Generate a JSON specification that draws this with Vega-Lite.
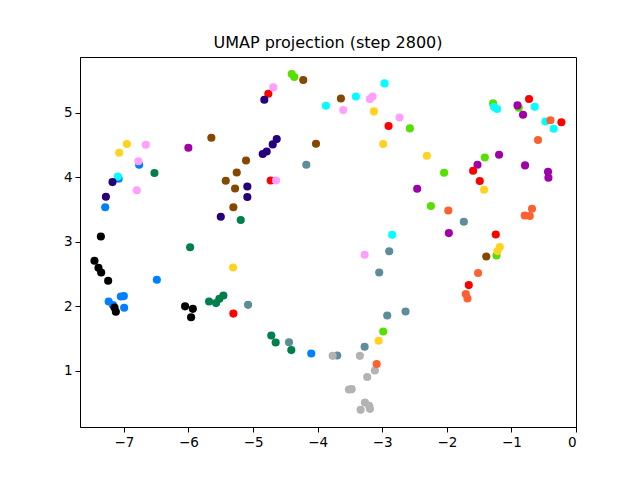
{
  "$schema": "https://vega.github.io/schema/vega-lite/v6.json",
  "width": 496,
  "height": 370,
  "autosize": {"type": "none"},
  "padding": {"left": 80, "top": 57, "right": 64, "bottom": 53},
  "background": "white",
  "title": {"text": "UMAP projection (step 2800)", "font": "DejaVu Sans", "fontSize": 16, "fontWeight": "normal", "color": "black", "offset": 6},
  "config": {
    "view": {"stroke": "black", "strokeWidth": 1},
    "axis": {"labelFont": "DejaVu Sans", "labelFontSize": 13.5, "labelColor": "black", "tickColor": "black", "tickSize": 5, "domainColor": "black", "grid": false, "labelPadding": 3, "title": null}
  },
  "data": {"values": [
    {"c": "blue", "x": -7.082, "y": 3.974}, {"c": "blue", "x": -6.764, "y": 4.191}, {"c": "blue", "x": -7.290, "y": 3.533}, {"c": "blue", "x": -6.490, "y": 2.410}, {"c": "blue", "x": -7.236, "y": 2.074}, {"c": "blue", "x": -7.047, "y": 2.151}, {"c": "blue", "x": -7.001, "y": 2.157}, {"c": "blue", "x": -6.996, "y": 1.976}, {"c": "blue", "x": -4.099, "y": 1.268}, {"c": "blue", "x": -7.170, "y": 2.020},
    {"c": "black", "x": -7.357, "y": 3.081}, {"c": "black", "x": -7.456, "y": 2.704}, {"c": "black", "x": -7.394, "y": 2.595}, {"c": "black", "x": -7.352, "y": 2.523}, {"c": "black", "x": -7.244, "y": 2.394}, {"c": "black", "x": -7.146, "y": 1.981}, {"c": "black", "x": -7.125, "y": 1.914}, {"c": "black", "x": -6.053, "y": 1.999}, {"c": "black", "x": -5.933, "y": 1.960}, {"c": "black", "x": -5.960, "y": 1.829},
    {"c": "lime", "x": -4.402, "y": 5.597}, {"c": "lime", "x": -4.362, "y": 5.551}, {"c": "lime", "x": -2.572, "y": 4.754}, {"c": "lime", "x": -2.042, "y": 4.067}, {"c": "lime", "x": -2.247, "y": 3.552}, {"c": "lime", "x": -2.985, "y": 1.609}, {"c": "lime", "x": -1.412, "y": 4.304}, {"c": "lime", "x": -1.284, "y": 5.141}, {"c": "lime", "x": -0.886, "y": 5.074}, {"c": "lime", "x": -1.231, "y": 2.786},
    {"c": "slate", "x": -5.078, "y": 2.022}, {"c": "slate", "x": -4.176, "y": 4.191}, {"c": "slate", "x": -4.444, "y": 1.442}, {"c": "slate", "x": -3.697, "y": 1.237}, {"c": "slate", "x": -3.273, "y": 1.372}, {"c": "slate", "x": -3.047, "y": 2.523}, {"c": "slate", "x": -2.892, "y": 2.851}, {"c": "slate", "x": -2.923, "y": 1.857}, {"c": "slate", "x": -2.639, "y": 1.919}, {"c": "slate", "x": -1.737, "y": 3.308},
    {"c": "gray", "x": -3.768, "y": 1.232}, {"c": "gray", "x": -3.346, "y": 1.232}, {"c": "gray", "x": -3.114, "y": 1.005}, {"c": "gray", "x": -3.233, "y": 0.904}, {"c": "gray", "x": -3.516, "y": 0.710}, {"c": "gray", "x": -3.474, "y": 0.716}, {"c": "gray", "x": -3.268, "y": 0.509}, {"c": "gray", "x": -3.202, "y": 0.458}, {"c": "gray", "x": -3.335, "y": 0.396}, {"c": "gray", "x": -3.191, "y": 0.411},
    {"c": "purple", "x": -6.002, "y": 4.455}, {"c": "purple", "x": -2.459, "y": 3.820}, {"c": "purple", "x": -1.969, "y": 3.133}, {"c": "purple", "x": -1.525, "y": 4.191}, {"c": "purple", "x": -1.191, "y": 4.346}, {"c": "purple", "x": -0.906, "y": 5.110}, {"c": "purple", "x": -0.820, "y": 4.966}, {"c": "purple", "x": -0.789, "y": 4.181}, {"c": "purple", "x": -0.433, "y": 4.082}, {"c": "purple", "x": -0.427, "y": 3.990},
    {"c": "cyan", "x": -7.094, "y": 4.010}, {"c": "cyan", "x": -3.872, "y": 5.105}, {"c": "cyan", "x": -3.408, "y": 5.249}, {"c": "cyan", "x": -2.964, "y": 5.451}, {"c": "cyan", "x": -2.846, "y": 3.107}, {"c": "cyan", "x": -1.268, "y": 5.085}, {"c": "cyan", "x": -1.222, "y": 5.054}, {"c": "cyan", "x": -0.639, "y": 5.090}, {"c": "cyan", "x": -0.473, "y": 4.862}, {"c": "cyan", "x": -0.345, "y": 4.749},
    {"c": "orange", "x": -3.086, "y": 1.105}, {"c": "orange", "x": -1.977, "y": 3.483}, {"c": "orange", "x": -1.516, "y": 2.514}, {"c": "orange", "x": -1.706, "y": 2.188}, {"c": "orange", "x": -1.680, "y": 2.120}, {"c": "orange", "x": -0.681, "y": 3.510}, {"c": "orange", "x": -0.794, "y": 3.406}, {"c": "orange", "x": -0.716, "y": 3.397}, {"c": "orange", "x": -0.588, "y": 4.574}, {"c": "orange", "x": -0.396, "y": 4.881},
    {"c": "brown", "x": -5.646, "y": 4.610}, {"c": "brown", "x": -5.109, "y": 4.258}, {"c": "brown", "x": -5.253, "y": 4.072}, {"c": "brown", "x": -5.423, "y": 3.943}, {"c": "brown", "x": -5.279, "y": 3.824}, {"c": "brown", "x": -5.305, "y": 3.533}, {"c": "brown", "x": -4.223, "y": 5.503}, {"c": "brown", "x": -4.026, "y": 4.517}, {"c": "brown", "x": -3.640, "y": 5.218}, {"c": "brown", "x": -1.389, "y": 2.771},
    {"c": "green", "x": -6.527, "y": 4.063}, {"c": "green", "x": -5.975, "y": 2.913}, {"c": "green", "x": -5.191, "y": 3.336}, {"c": "green", "x": -5.682, "y": 2.074}, {"c": "green", "x": -5.573, "y": 2.049}, {"c": "green", "x": -5.522, "y": 2.115}, {"c": "green", "x": -5.460, "y": 2.167}, {"c": "green", "x": -4.718, "y": 1.547}, {"c": "green", "x": -4.650, "y": 1.438}, {"c": "green", "x": -4.408, "y": 1.321},
    {"c": "gold", "x": -6.954, "y": 4.512}, {"c": "gold", "x": -7.073, "y": 4.377}, {"c": "gold", "x": -5.310, "y": 2.600}, {"c": "gold", "x": -3.129, "y": 5.017}, {"c": "gold", "x": -2.985, "y": 4.512}, {"c": "gold", "x": -2.309, "y": 4.331}, {"c": "gold", "x": -1.423, "y": 3.804}, {"c": "gold", "x": -1.180, "y": 2.916}, {"c": "gold", "x": -1.216, "y": 2.854}, {"c": "gold", "x": -3.056, "y": 1.465},
    {"c": "red", "x": -4.764, "y": 5.291}, {"c": "red", "x": -4.727, "y": 3.948}, {"c": "red", "x": -5.305, "y": 1.886}, {"c": "red", "x": -2.902, "y": 4.791}, {"c": "red", "x": -1.593, "y": 4.098}, {"c": "red", "x": -1.490, "y": 3.939}, {"c": "red", "x": -1.660, "y": 2.328}, {"c": "red", "x": -1.242, "y": 3.112}, {"c": "red", "x": -0.727, "y": 5.209}, {"c": "red", "x": -0.226, "y": 4.850},
    {"c": "indigo", "x": -7.177, "y": 3.923}, {"c": "indigo", "x": -7.279, "y": 3.696}, {"c": "indigo", "x": -5.500, "y": 3.386}, {"c": "indigo", "x": -5.089, "y": 3.855}, {"c": "indigo", "x": -5.089, "y": 3.691}, {"c": "indigo", "x": -4.826, "y": 5.198}, {"c": "indigo", "x": -4.851, "y": 4.357}, {"c": "indigo", "x": -4.789, "y": 4.397}, {"c": "indigo", "x": -4.696, "y": 4.506}, {"c": "indigo", "x": -4.634, "y": 4.589},
    {"c": "pink", "x": -6.661, "y": 4.501}, {"c": "pink", "x": -6.775, "y": 4.246}, {"c": "pink", "x": -6.800, "y": 3.796}, {"c": "pink", "x": -4.687, "y": 5.389}, {"c": "pink", "x": -4.645, "y": 3.948}, {"c": "pink", "x": -3.604, "y": 5.039}, {"c": "pink", "x": -3.191, "y": 5.209}, {"c": "pink", "x": -3.149, "y": 5.249}, {"c": "pink", "x": -2.732, "y": 4.924}, {"c": "pink", "x": -3.273, "y": 2.797}
  ]},
  "mark": {"type": "circle", "size": 66, "opacity": 1},
  "encoding": {
    "x": {"field": "x", "type": "quantitative", "scale": {"domain": [-7.68, 0], "nice": false, "zero": false},
          "axis": {"values": [-7, -6, -5, -4, -3, -2, -1, 0], "labelExpr": "datum.value < 0 ? '\u2212' + format(-datum.value, 'd') : format(datum.value, 'd')"}},
    "y": {"field": "y", "type": "quantitative", "scale": {"domain": [0.13, 5.86], "nice": false, "zero": false},
          "axis": {"values": [1, 2, 3, 4, 5]}},
    "color": {"field": "c", "type": "nominal", "legend": null,
              "scale": {"domain": ["blue", "black", "lime", "slate", "gray", "purple", "cyan", "orange", "brown", "green", "gold", "red", "indigo", "pink"],
                        "range": ["#0080ff", "#000000", "#55e000", "#5f8c99", "#b3b3b3", "#a000a8", "#00ffff", "#ff6030", "#844800", "#007f4a", "#ffd320", "#ff0000", "#26007a", "#ffa0ff"]}}
  }
}
